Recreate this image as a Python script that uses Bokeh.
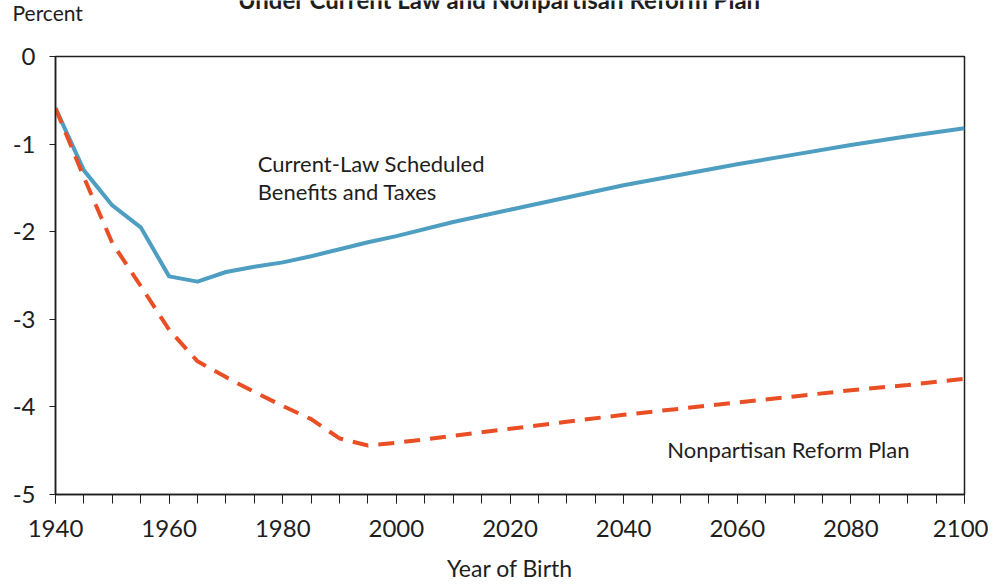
from bokeh.plotting import figure
from bokeh.models import Label, FixedTicker, Range1d
from bokeh.layouts import column
from bokeh.embed import file_html
from bokeh.resources import INLINE

# ---- data ----
years_current = [1940, 1945, 1950, 1955, 1960, 1965, 1970, 1975, 1980, 1985, 1990, 1995,
                 2000, 2010, 2020, 2030, 2040, 2050, 2060, 2070, 2080, 2090, 2100]
current_law = [-0.59, -1.30, -1.70, -1.95, -2.51, -2.57, -2.46, -2.40, -2.35, -2.28, -2.20, -2.12,
               -2.05, -1.89, -1.75, -1.61, -1.47, -1.35, -1.23, -1.12, -1.01, -0.91, -0.82]

years_reform = [1940, 1945, 1950, 1955, 1960, 1965, 1970, 1975, 1980, 1985, 1990, 1995,
                2000, 2010, 2020, 2030, 2040, 2050, 2060, 2070, 2080, 2090, 2100]
reform_plan = [-0.59, -1.38, -2.13, -2.62, -3.12, -3.48, -3.66, -3.83, -3.99, -4.14, -4.36, -4.44,
               -4.41, -4.33, -4.25, -4.17, -4.09, -4.02, -3.95, -3.88, -3.81, -3.75, -3.68]

x_ticks = [1940, 1960, 1980, 2000, 2020, 2040, 2060, 2080, 2100]
y_ticks = [0, -1, -2, -3, -4, -5]
y_tick_labels = ["0", "-1", "-2", "-3", "-4", "-5"]

title_text = "Under Current Law and Nonpartisan Reform Plan"
y_unit_text = "Percent"
FONT = "Lato"
BLUE = "#4e9ec2"
ORANGE = "#ea4e25"
INK = "#1e1e1e"

W = 988

# ---- header strip (title, unit) ----
HEAD_H = 30
head = figure(width=W, height=HEAD_H, output_backend="svg", toolbar_location=None,
              x_range=Range1d(0, W), y_range=Range1d(0, HEAD_H), min_border=0,
              x_axis_type=None, y_axis_type=None)
head.frame_align = False
head.xgrid.visible = False
head.ygrid.visible = False
head.outline_line_color = None
head.add_layout(Label(x=499, y=HEAD_H + 1.5, text=title_text, text_font=FONT,
                      text_font_size="24px", text_font_style="bold", text_color=INK,
                      text_align="center", text_baseline="middle"))
head.add_layout(Label(x=12, y=HEAD_H - 12, text=y_unit_text, text_font=FONT,
                      text_font_size="21px", text_color=INK,
                      text_align="left", text_baseline="middle"))

# ---- main chart ----
p = figure(width=W, height=584 - HEAD_H, output_backend="svg", toolbar_location=None,
           x_range=Range1d(1940, 2100), y_range=Range1d(-5, 0),
           min_border_left=55, min_border_right=24, min_border_top=56 - HEAD_H,
           min_border_bottom=89)
p.frame_align = False

p.xgrid.visible = False
p.ygrid.visible = False
p.outline_line_color = INK
p.outline_line_width = 1.5
p.background_fill_color = "white"
p.border_fill_color = "white"

p.line(years_current, current_law, line_color=BLUE, line_width=4, line_join="round")
p.line(years_reform, reform_plan, line_color=ORANGE, line_width=4, line_dash="16 10")

xa = p.xaxis[0]
xa.ticker = FixedTicker(ticks=x_ticks, minor_ticks=list(range(1940, 2101, 5)))
xa.major_tick_out = 9
xa.major_tick_in = 0
xa.minor_tick_out = 9
xa.minor_tick_in = 0
xa.major_label_text_font = FONT
xa.major_label_text_font_size = "24px"
xa.major_label_text_color = INK
xa.major_label_standoff = 16
xa.axis_label = "Year of Birth"
xa.axis_label_text_font = FONT
xa.axis_label_text_font_size = "23px"
xa.axis_label_text_font_style = "normal"
xa.axis_label_text_color = INK
xa.axis_label_standoff = 14
xa.axis_line_color = INK
xa.axis_line_width = 1.5
xa.major_tick_line_color = INK
xa.minor_tick_line_color = INK

ya = p.yaxis[0]
ya.ticker = FixedTicker(ticks=y_ticks, minor_ticks=[])
ya.major_label_overrides = {t: s for t, s in zip(y_ticks, y_tick_labels)}
ya.major_tick_out = 6
ya.major_tick_in = 0
ya.minor_tick_out = 0
ya.minor_tick_in = 0
ya.major_label_text_font = FONT
ya.major_label_text_font_size = "24px"
ya.major_label_text_color = INK
ya.major_label_standoff = 14
ya.axis_line_color = INK
ya.axis_line_width = 1.5
ya.major_tick_line_color = INK

def lab(text, x, y, size):
    p.add_layout(Label(x=x, y=y, text=text, text_font=FONT, text_font_size=size,
                       text_color=INK, text_baseline="middle", text_align="left"))

lab("Current-Law Scheduled", 1975.6, -1.22, "22px")
lab("Benefits and Taxes", 1975.6, -1.54, "22px")
lab("Nonpartisan Reform Plan", 2047.7, -4.49, "22px")

open("out.html", "w").write(file_html(column(head, p), INLINE))
